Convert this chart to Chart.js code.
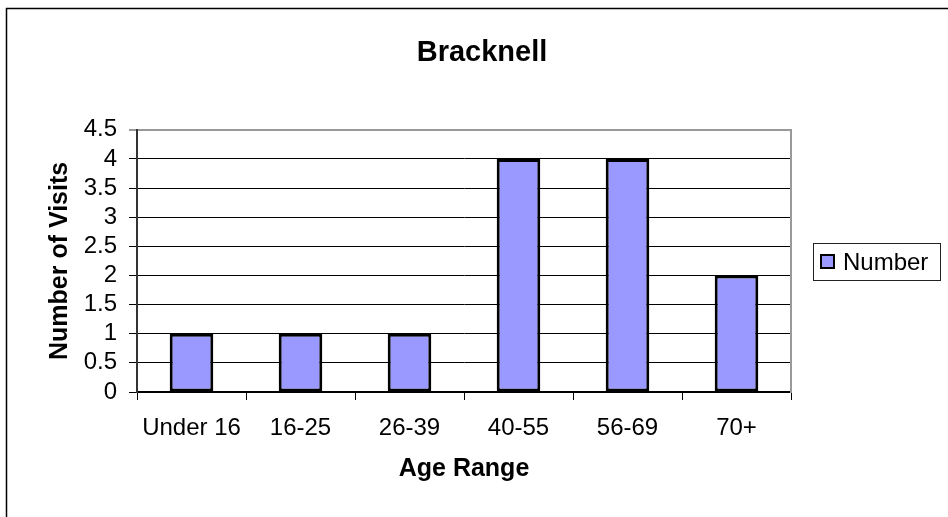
<!DOCTYPE html>
<html>
<head>
<meta charset="utf-8">
<title>Bracknell</title>
<script src="https://cdn.jsdelivr.net/npm/chart.js@4"></script>
<style>
  html, body { margin: 0; padding: 0; background: #fff; }
  canvas { display: block; }
</style>
</head>
<body>
<canvas id="chart" width="948" height="517"></canvas>
<script>
// data
const ageRanges = ['Under 16', '16-25', '26-39', '40-55', '56-69', '70+'];
const visits = [1, 1, 1, 4, 4, 2];
const seriesName = 'Number';

const FONT = '"Liberation Sans", Arial, sans-serif';

// outer frame and the boxed legend, Excel style
const excelBits = {
    id: 'excelBits',
    beforeDraw(chart) {
        const c = chart.ctx;
        c.save();
        c.fillStyle = '#fff';
        c.fillRect(0, 0, chart.width, chart.height);
        c.strokeStyle = '#000';
        c.lineWidth = 1.5;
        c.strokeRect(6.5, 8.5, chart.width + 20, chart.height + 20);
        c.restore();
    },
    afterDraw(chart) {
        const c = chart.ctx;
        const ds = chart.data.datasets[0];
        c.save();
        c.fillStyle = '#fff';
        c.fillRect(813, 243, 127, 37);
        c.strokeStyle = '#222';
        c.lineWidth = 1;
        c.strokeRect(813.5, 243.5, 127, 37);
        c.fillStyle = ds.backgroundColor;
        c.fillRect(821, 255, 13, 13);
        c.strokeStyle = '#000';
        c.lineWidth = 2;
        c.strokeRect(821, 255, 13, 13);
        c.fillStyle = '#000';
        c.font = '24px ' + FONT;
        c.textBaseline = 'alphabetic';
        c.fillText(ds.label, 843, 270);
        c.restore();
    }
};

new Chart(document.getElementById('chart'), {
    type: 'bar',
    data: {
        labels: ageRanges,
        datasets: [{
            label: seriesName,
            data: visits,
            backgroundColor: '#9999FF',
            borderColor: '#000',
            borderWidth: 3,
            borderSkipped: false,
            barPercentage: 0.4,
            categoryPercentage: 1
        }]
    },
    options: {
        responsive: false,
        devicePixelRatio: 1,
        animation: false,
        layout: { padding: { left: 16, top: 0, right: 0, bottom: 0 } },
        plugins: {
            legend: { display: false },
            tooltip: { enabled: false },
            title: {
                display: true,
                text: 'Bracknell',
                color: '#000',
                font: { family: FONT, size: 29, weight: 'bold' },
                padding: { top: 36, bottom: 59 }
            }
        },
        scales: {
            x: {
                grid: {
                    offset: true,
                    drawOnChartArea: false,
                    tickLength: 8,
                    color: '#000'
                },
                border: { color: '#000', width: 2 },
                ticks: {
                    color: '#000',
                    padding: 14,
                    maxRotation: 0,
                    autoSkip: false,
                    font: { family: FONT, size: 24 }
                },
                title: {
                    display: true,
                    text: 'Age Range',
                    color: '#000',
                    font: { family: FONT, size: 25, weight: 'bold' },
                    padding: { top: 0, bottom: 33 }
                },
                afterFit(scale) { scale.height = 125; }
            },
            y: {
                min: 0,
                max: 4.5,
                grid: {
                    tickLength: 8,
                    color: ctx => (ctx.tick && ctx.tick.value === 4.5) ? '#999' : '#000',
                    lineWidth: ctx => (ctx.tick && ctx.tick.value === 4.5) ? 2 : 1
                },
                border: { color: '#333', width: 2 },
                ticks: {
                    stepSize: 0.5,
                    autoSkip: false,
                    color: '#000',
                    padding: 12,
                    font: { family: FONT, size: 24 },
                    callback: v => String(v)
                },
                title: {
                    display: true,
                    text: 'Number of Visits',
                    color: '#000',
                    font: { family: FONT, size: 25, weight: 'bold' },
                    padding: { top: 29, bottom: 0 }
                },
                afterFit(scale) { scale.width = 121; }
            },
            // empty right-hand scale: gives the gray plot border and keeps room for the legend
            yRight: {
                position: 'right',
                min: 0,
                max: 4.5,
                grid: { drawOnChartArea: false, drawTicks: false },
                border: { color: '#999', width: 2 },
                ticks: { display: false },
                afterFit(scale) { scale.width = 157; }
            }
        }
    },
    plugins: [excelBits]
});
</script>
</body>
</html>
